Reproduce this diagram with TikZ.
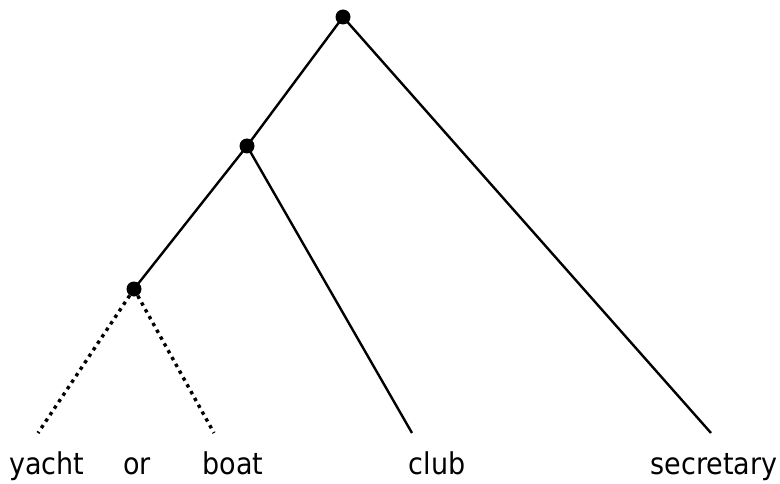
\documentclass[tikz,border=0pt]{standalone}
\usepackage{fontspec}
\newfontfamily\wordfont{DejaVu Sans Condensed}
\usepackage{tikz}

\begin{document}
\begin{tikzpicture}[x=1pt, y=-1pt,
  dot/.style={circle,fill=black,inner sep=0pt,minimum size=15pt},
  word/.style={font=\wordfont\fontsize{30}{36}\selectfont,anchor=base,inner sep=0pt},
  branch/.style={line width=2.4pt},
  faint/.style={line width=3.4pt,dash pattern=on 3.4pt off 4.4pt}]
  \useasboundingbox (0,0) rectangle (780,484);
  \node[dot] (root) at (343,17) {};
  \node[dot] (mid) at (247,146) {};
  \node[dot] (low) at (134,289) {};
  \coordinate (yachtend) at (38,433);
  \coordinate (boatend) at (214,433);
  \coordinate (clubend) at (412,433);
  \coordinate (secend) at (711,433);
  \node[word] (yacht) at (47,474) {yacht};
  \node[word] (or) at (137,474) {or};
  \node[word] (boat) at (233,474) {boat};
  \node[word] (club) at (437,474) {club};
  \node[word] (sec) at (714,474) {secretary};
  \draw[branch] (root.center)--(mid.center);
  \draw[branch] (mid.center)--(low.center);
  \draw[branch] (root.center)--(secend);
  \draw[branch] (mid.center)--(clubend);
  \draw[faint] (low)--(yachtend);
  \draw[faint] (low)--(boatend);
\end{tikzpicture}
\end{document}
